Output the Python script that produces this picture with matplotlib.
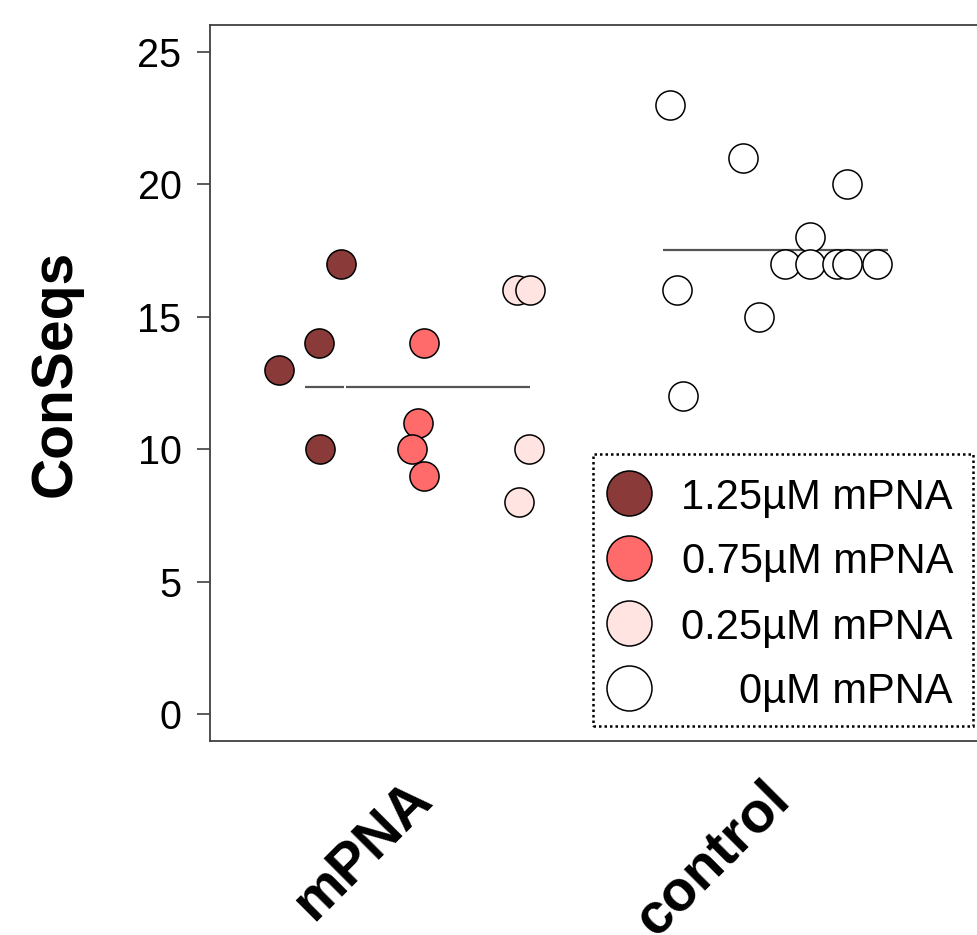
import matplotlib
matplotlib.use("Agg")
import matplotlib.pyplot as plt
from matplotlib.patches import Rectangle
from matplotlib.transforms import blended_transform_factory, ScaledTranslation
import numpy as np

plt.rcParams['font.family'] = ['Liberation Sans', 'DejaVu Sans']

# ---------------- data ----------------
groups = ["mPNA", "control"]
conc_labels = ["1.25\u00b5M mPNA", "0.75\u00b5M mPNA", "0.25\u00b5M mPNA", "0\u00b5M mPNA"]
conc_colors = ["#8B3A3A", "#FF6A6A", "#FFE4E1", "#FFFFFF"]

mpna_125 = [17, 14, 13, 10]
mpna_075 = [14, 11, 10, 9]
mpna_025 = [16, 16, 10, 8]
ctrl_0 = [23, 21, 20, 18, 17, 17, 17, 17, 17, 16, 15, 12]

# horizontal swarm offsets
jit_125 = [-0.213, -0.277, -0.386, -0.274]
jit_075 = [0.018, 0.001, -0.015, 0.018]
jit_025 = [0.313, 0.277, 0.311, 0.283]
jit_ctrl = [-0.297, -0.093, 0.199, 0.096, 0.026, 0.096, 0.171, 0.199, 0.283, -0.277, -0.046, -0.260]

W, H = 978, 935
fig = plt.figure(figsize=(W / 100, H / 100), dpi=100)

def fx(p):
    return p / W

def fy(p):
    return 1 - p / H

# axes box (right spine runs just past the picture edge)
ax = fig.add_axes([fx(210), fy(741), fx(983.7) - fx(210), fy(25) - fy(741)])
ax.set_xlim(0.42, 2.58)
ax.set_ylim(-1, 26)

edge = "#404040"
for s in ax.spines.values():
    s.set_color(edge)
    s.set_linewidth(1.3)

ax.set_yticks([0, 5, 10, 15, 20, 25])
ax.tick_params(axis='y', length=9.5, width=1.2, color=edge, pad=11, labelsize=28.5)
ax.set_xticks([])

# mean lines
mpna_all = mpna_125 + mpna_075 + mpna_025
m1 = np.mean(mpna_all)
m2 = np.mean(ctrl_0)
hw = 0.314
ax.plot([1 - hw, 1 - 0.207], [m1, m1], color="#555555", lw=1.6, zorder=2, solid_capstyle='butt')
ax.plot([1 - 0.200, 1 + hw], [m1, m1], color="#555555", lw=1.6, zorder=2, solid_capstyle='butt')
ax.plot([2 - hw, 2 + hw], [m2, m2], color="#555555", lw=1.6, zorder=2, solid_capstyle='butt')

# points
msize = 440
sets = [(1, jit_125, mpna_125, conc_colors[0]),
        (1, jit_075, mpna_075, conc_colors[1]),
        (1, jit_025[::-1], mpna_025[::-1], conc_colors[2]),
        (2, jit_ctrl, ctrl_0, conc_colors[3])]
for gx, jit, vals, col in sets:
    for j, v in zip(jit, vals):
        ax.scatter(gx + j, v, s=msize, c=col, edgecolors="black", linewidths=1.1, zorder=3)

# rotated group labels
trans = blended_transform_factory(ax.transData, ax.transAxes)
off = ScaledTranslation(16 / 100, -60 / 100, fig.dpi_scale_trans)
for i, g in enumerate(groups):
    ax.text(i + 1, 0, g, transform=trans + off, rotation=45, ha='right', va='baseline',
            rotation_mode='anchor', fontsize=41, fontweight='bold', clip_on=False)

# y label
fig.text(fx(71), fy(373), "ConSeqs", rotation=90, rotation_mode='anchor',
         ha='center', va='baseline', fontsize=41, fontweight='bold')

# legend drawn by hand (dotted frame, right-aligned labels)
box = Rectangle((fx(592.7), fy(726)), fx(972.7) - fx(592.7), fy(454) - fy(726),
                transform=fig.transFigure, facecolor='white', edgecolor='black',
                lw=1.8, linestyle=(0, (1, 1.2)), zorder=5, clip_on=False)
ax.add_patch(box)
rows = [493, 558, 623, 688]
for r, lab, col in zip(rows, conc_labels, conc_colors):
    ax.scatter(fx(629), fy(r), s=1050, c=col, edgecolors='black', linewidths=1.1,
               transform=fig.transFigure, zorder=6, clip_on=False)
    ax.text(fx(953), fy(r), lab, ha='right', va='center_baseline', fontsize=30,
            transform=fig.transFigure, zorder=7, clip_on=False)

fig.savefig("out.png", dpi=100)
